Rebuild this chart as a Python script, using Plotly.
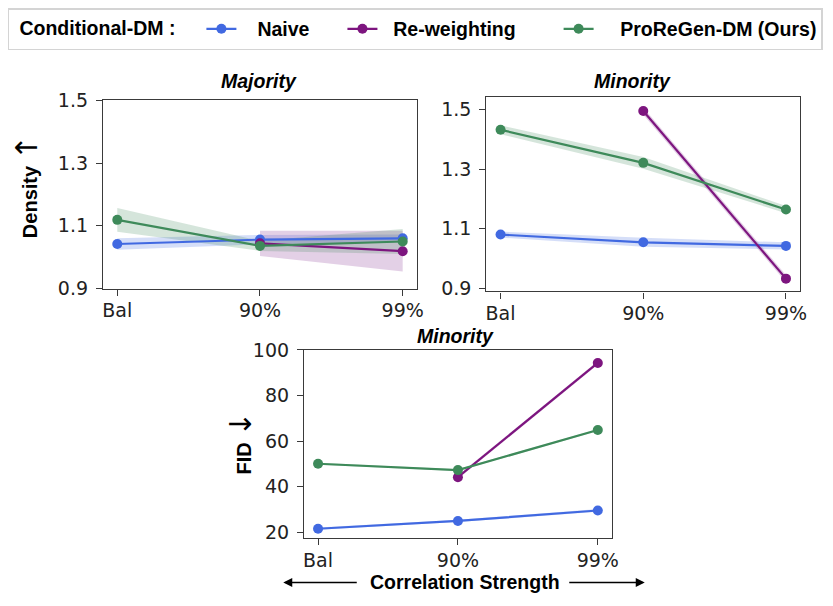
import plotly.graph_objects as go

# ---------------- data ----------------
categories = ["Bal", "90%", "99%"]
x_pos = [0, 1, 2]

series_names = ["Naive", "Re-weighting", "ProReGen-DM (Ours)"]
series_colors = ["#4169E1", "#7D157F", "#3E8A5A"]
band_colors = ["rgba(65,105,225,0.22)", "rgba(128,40,140,0.22)", "rgba(62,138,90,0.22)"]
legend_title = "Conditional-DM :"

# Density - Majority
maj_naive = [1.042, 1.056, 1.060]
maj_naive_err = [0.018, 0.015, 0.012]
maj_rew = [None, 1.044, 1.019]
maj_rew_err = [None, 0.040, 0.065]
maj_pro = [1.119, 1.036, 1.050]
maj_pro_err = [0.038, 0.016, 0.040]

# Density - Minority
min_naive = [1.080, 1.054, 1.042]
min_naive_err = [0.010, 0.015, 0.012]
min_rew = [None, 1.495, 0.932]
min_rew_err = [None, 0.012, 0.012]
min_pro = [1.432, 1.321, 1.164]
min_pro_err = [0.015, 0.020, 0.012]

# FID - Minority
fid_naive = [21.6, 25.0, 29.6]
fid_naive_err = [0.5, 0.5, 0.6]
fid_rew = [None, 44.2, 94.3]
fid_rew_err = [None, 0.7, 0.7]
fid_pro = [50.1, 47.3, 64.9]
fid_pro_err = [0.4, 0.4, 0.4]

density_ticks = [0.9, 1.1, 1.3, 1.5]
fid_ticks = [20, 40, 60, 80, 100]

panels = [
    ("x", "y", [(maj_naive, maj_naive_err), (maj_rew, maj_rew_err), (maj_pro, maj_pro_err)]),
    ("x2", "y2", [(min_naive, min_naive_err), (min_rew, min_rew_err), (min_pro, min_pro_err)]),
    ("x3", "y3", [(fid_naive, fid_naive_err), (fid_rew, fid_rew_err), (fid_pro, fid_pro_err)]),
]

W, H = 833, 606
LEG_SIZE = 19.5
NBSP_W = 0.278 * LEG_SIZE


def px_x(p):
    return p / W


def px_y(p):
    return 1 - p / H


def spacer(w):
    """horizontal gap of about w pixels built from non-breaking spaces"""
    n = int(w // NBSP_W)
    rem = w - n * NBSP_W
    s = "\u00a0" * n
    if rem > 0.6:
        s += "<span style='font-size:%.1fpx'>\u00a0</span>" % (rem / 0.278)
    return s


# (leading gap, trailing gap) for each legend entry
legend_gaps = [(16, 28), (11, 38), (22, 0)]

fig = go.Figure()

for pi, (xa, ya, sers) in enumerate(panels):
    for si, (vals, errs) in enumerate(sers):
        xs = [x for x, v in zip(x_pos, vals) if v is not None]
        vs = [v for v in vals if v is not None]
        es = [e for e in errs if e is not None]
        up = [v + e for v, e in zip(vs, es)]
        lo = [v - e for v, e in zip(vs, es)]
        fig.add_trace(go.Scatter(x=xs, y=up, mode="lines", line=dict(width=0),
                                 xaxis=xa, yaxis=ya, showlegend=False, hoverinfo="skip"))
        fig.add_trace(go.Scatter(x=xs, y=lo, mode="lines", line=dict(width=0),
                                 fill="tonexty", fillcolor=band_colors[si],
                                 xaxis=xa, yaxis=ya, showlegend=False, hoverinfo="skip"))
    for si, (vals, errs) in enumerate(sers):
        xs = [x for x, v in zip(x_pos, vals) if v is not None]
        vs = [v for v in vals if v is not None]
        lead, trail = legend_gaps[si]
        fig.add_trace(go.Scatter(x=xs, y=vs, mode="lines+markers",
                                 name=spacer(lead) + series_names[si] + spacer(trail),
                                 line=dict(color=series_colors[si], width=2.2),
                                 marker=dict(color=series_colors[si], size=10),
                                 xaxis=xa, yaxis=ya, showlegend=(pi == 0)))

frame = dict(showline=True, mirror=True, linecolor="#3a3a3a", linewidth=1.3,
             ticks="outside", ticklen=6, tickwidth=1.2, tickcolor="#3a3a3a",
             showgrid=False, zeroline=False,
             tickfont=dict(family="DejaVu Sans", size=19, color="#222222"))

xcommon = dict(frame, tickvals=x_pos, ticktext=categories, range=[-0.1, 2.1],
               ticklabelstandoff=-1)
ycommon = dict(frame, ticklabelstandoff=4)

LEG_FONT = dict(family="Liberation Sans", size=LEG_SIZE, color="black", weight="bold")

layout = dict(
    width=W, height=H, margin=dict(l=0, r=0, t=0, b=0),
    paper_bgcolor="white", plot_bgcolor="white",
    xaxis=dict(xcommon, domain=[px_x(103), px_x(420)], anchor="y"),
    yaxis=dict(ycommon, domain=[px_y(288), px_y(92.7)], range=[0.9, 1.5], tickvals=density_ticks,
               tickformat=".1f", anchor="x"),
    xaxis2=dict(xcommon, domain=[px_x(490), px_x(807)], anchor="y2"),
    yaxis2=dict(ycommon, domain=[px_y(291), px_y(89)], range=[0.889, 1.543], tickvals=density_ticks,
                tickformat=".1f", anchor="x2"),
    xaxis3=dict(xcommon, domain=[px_x(306), px_x(616.7)], anchor="y3"),
    yaxis3=dict(ycommon, domain=[px_y(546.7), px_y(351.7)], range=[17.6, 100], tickvals=fid_ticks,
                anchor="x3"),
    legend=dict(orientation="h", x=px_x(7), y=px_y(-3), xanchor="left", yanchor="top",
                bgcolor="white", bordercolor="#d4d4d4", borderwidth=1.5,
                font=LEG_FONT,
                title=dict(text=spacer(8) + legend_title + spacer(18), side="left", font=LEG_FONT),
                itemwidth=30, traceorder="normal"),
    showlegend=True,
)
fig.update_layout(**layout)

title_font = dict(family="Liberation Sans", size=19.5, color="black", weight="bold", style="italic")
label_font = dict(family="Liberation Sans", size=20, color="black")
ARROW_SPAN = "<span style='font-family:DejaVu Sans;font-size:30px'>%s</span>"

annos = [
    dict(text="Majority", x=px_x(261), y=px_y(73), font=title_font),
    dict(text="Minority", x=px_x(638), y=px_y(73), font=title_font),
    dict(text="Minority", x=px_x(459), y=px_y(337), font=title_font),
    dict(text="<b>Density</b> " + ARROW_SPAN % "↑", x=px_x(26), y=px_y(182),
         font=label_font, textangle=-90),
    dict(text="<b>FID</b> " + ARROW_SPAN % "↓", x=px_x(242), y=px_y(448),
         font=label_font, textangle=-90),
    dict(text="<b>Correlation Strength</b>", x=px_x(468), y=px_y(593),
         font=dict(family="Liberation Sans", size=19.5, color="black")),
]
for a in annos:
    fig.add_annotation(xref="paper", yref="paper", showarrow=False,
                       xanchor="center", yanchor="middle", **a)

# axis-direction arrows beside the x label
fig.add_annotation(xref="paper", yref="paper", x=px_x(285), y=px_y(593), ax=75, ay=0,
                   text="", showarrow=True, arrowhead=2, arrowsize=1.2, arrowwidth=1.5,
                   arrowcolor="black")
fig.add_annotation(xref="paper", yref="paper", x=px_x(650), y=px_y(593), ax=-77, ay=0,
                   text="", showarrow=True, arrowhead=2, arrowsize=1.2, arrowwidth=1.5,
                   arrowcolor="black")

fig.write_html("out.html")
